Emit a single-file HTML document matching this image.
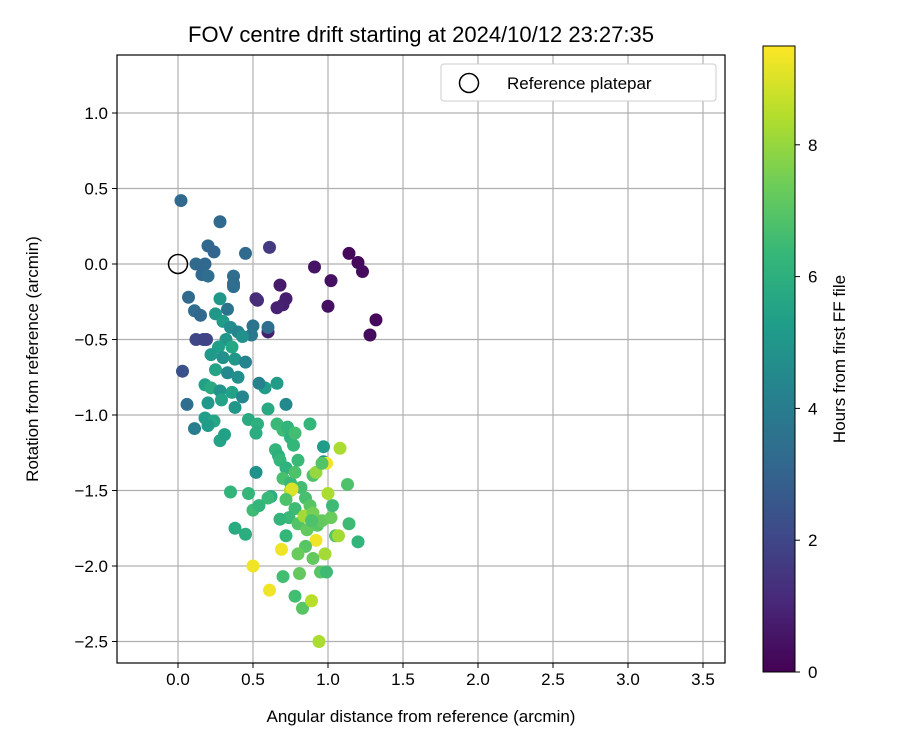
<!DOCTYPE html>
<html><head><meta charset="utf-8"><style>
body{margin:0;background:#fff;font-family:"Liberation Sans","DejaVu Sans",sans-serif}
</style></head><body>
<svg id="chart" width="900" height="750" xmlns="http://www.w3.org/2000/svg">
<rect width="900" height="750" fill="#fff"/>
<text x="421" y="42" text-anchor="middle" font-size="22" fill="#000">FOV centre drift starting at 2024/10/12 23:27:35</text>
<g id="grid"></g><g id="pts"></g><g id="axes"></g>
<text x="421" y="722" text-anchor="middle" font-size="17">Angular distance from reference (arcmin)</text>
<text transform="translate(38,359) rotate(-90)" text-anchor="middle" font-size="17">Rotation from reference (arcmin)</text>
<g>
<rect x="441" y="64" width="275" height="37" rx="3" fill="#fff" stroke="#ccc"/>
<circle cx="469" cy="83" r="9.5" fill="none" stroke="#000" stroke-width="1.5"/>
<text x="507" y="89" font-size="17">Reference platepar</text>
</g>
<defs><linearGradient id="vg" x1="0" y1="1" x2="0" y2="0"></linearGradient></defs>
<rect x="763" y="46" width="32" height="626" fill="url(#vg)" stroke="#000"/>
<g id="cbt"></g>
<text transform="translate(845,359) rotate(-90)" text-anchor="middle" font-size="17">Hours from first FF file</text>
</svg>
<script>
const xTicks=[0.0,0.5,1.0,1.5,2.0,2.5,3.0,3.5];
const yTicks=[1.0,0.5,0.0,-0.5,-1.0,-1.5,-2.0,-2.5];
const cTicks=[0,2,4,6,8];
const xs=[1.14,1.2,1.23,1.32,1.28,1.0,1.02,0.91,0.68,0.72,0.7,0.66,0.6,0.52,0.53,0.02,0.28,0.2,0.24,0.45,0.61,0.12,0.18,0.16,0.2,0.37,0.37,0.37,0.07,0.11,0.15,0.33,0.28,0.19,0.12,0.17,0.03,0.06,0.11,0.6,0.5,0.49,0.58,0.66,0.72,0.54,0.25,0.3,0.35,0.4,0.43,0.32,0.27,0.36,0.22,0.3,0.38,0.45,0.25,0.33,0.4,0.18,0.22,0.28,0.36,0.43,0.2,0.29,0.38,0.18,0.24,0.2,0.28,0.31,0.47,0.53,0.52,0.6,0.52,0.35,0.38,0.45,0.47,0.5,0.54,0.62,0.65,0.67,0.68,0.66,0.7,0.73,0.75,0.77,0.72,0.7,0.75,0.78,0.8,0.78,0.88,0.97,0.97,0.99,1.08,1.13,1.14,1.2,0.82,0.85,0.9,0.92,0.88,0.78,0.75,0.76,0.72,0.74,0.8,0.84,0.86,0.9,0.93,0.96,1.0,1.02,1.03,1.05,1.07,0.92,0.85,0.8,0.9,0.98,0.95,0.99,0.81,0.78,0.83,0.89,0.94,0.7,0.72,0.69,0.5,0.61,0.68,0.6,0.89,0.96];
const ys=[0.07,0.01,-0.05,-0.37,-0.47,-0.28,-0.11,-0.02,-0.14,-0.23,-0.27,-0.29,-0.45,-0.23,-0.24,0.42,0.28,0.12,0.08,0.07,0.11,0.0,0.0,-0.07,-0.08,-0.08,-0.13,-0.15,-0.22,-0.31,-0.34,-0.3,-0.23,-0.5,-0.5,-0.5,-0.71,-0.93,-1.09,-0.42,-0.41,-0.47,-0.82,-0.79,-0.93,-0.79,-0.33,-0.38,-0.42,-0.45,-0.48,-0.5,-0.55,-0.55,-0.6,-0.62,-0.63,-0.65,-0.7,-0.72,-0.75,-0.8,-0.82,-0.84,-0.85,-0.88,-0.92,-0.9,-0.95,-1.02,-1.04,-1.07,-1.17,-1.13,-1.03,-1.06,-1.12,-0.96,-1.38,-1.51,-1.75,-1.79,-1.52,-1.63,-1.6,-1.54,-1.23,-1.27,-1.3,-1.06,-1.1,-1.08,-1.15,-1.2,-1.35,-1.42,-1.45,-1.38,-1.3,-1.12,-1.06,-1.21,-1.31,-1.32,-1.22,-1.46,-1.72,-1.84,-1.48,-1.55,-1.4,-1.38,-1.6,-1.62,-1.5,-1.49,-1.56,-1.68,-1.72,-1.67,-1.76,-1.65,-1.73,-1.7,-1.52,-1.68,-1.6,-1.8,-1.8,-1.83,-1.87,-1.92,-1.95,-1.92,-2.04,-2.04,-2.05,-2.2,-2.28,-2.23,-2.5,-2.07,-1.8,-1.89,-2.0,-2.16,-1.69,-1.55,-1.7,-1.32];
const hs=[0.2,0.2,0.3,0.2,0.3,0.4,0.4,0.5,0.7,0.8,0.8,0.9,0.8,1.2,1.2,3.2,3.3,3.2,3.1,3.3,1.6,3.3,3.2,3.2,3.4,3.4,3.3,3.4,3.3,3.4,3.2,3.6,5.0,2.0,2.0,1.9,2.4,3.4,4.0,3.4,3.6,3.8,5.2,5.2,4.5,4.2,5.0,5.2,4.6,4.3,4.8,5.0,5.3,5.6,5.1,4.8,5.0,4.3,5.5,4.5,4.7,5.4,5.8,4.9,5.4,4.4,5.1,5.5,5.0,5.3,5.6,5.2,5.5,5.4,5.8,6.0,5.9,5.7,4.8,6.2,5.8,5.9,6.3,6.5,6.2,5.9,6.2,6.0,6.3,6.4,6.5,6.2,6.1,6.3,6.1,6.7,6.4,6.8,6.4,6.6,6.3,5.2,4.7,9.3,8.3,6.8,6.5,6.2,6.6,6.7,6.8,8.0,7.0,6.5,8.3,9.0,6.8,6.4,6.9,8.2,7.2,7.5,7.0,7.2,8.3,7.3,6.5,7.0,8.2,9.3,7.0,7.3,7.2,8.2,7.0,6.5,7.2,6.6,7.0,8.5,8.3,6.6,6.3,9.3,9.3,9.3,6.2,6.4,6.8,6.9];
const X=v=>178+v*150, Y=v=>264-v*151, CY=v=>672-v*65.9;
const L=117,R=725,T=55,B=663,NS="http://www.w3.org/2000/svg";
const vir=[[68,1,84],[72,40,120],[62,74,137],[49,104,142],[38,130,142],[31,158,137],[53,183,121],[109,205,89],[180,222,44],[253,231,37]];
function col(h){let t=Math.max(0,Math.min(1,h/9.5))*9,i=Math.min(8,Math.floor(t)),f=t-i,a=vir[i],b=vir[i+1];return `rgb(${a.map((c,k)=>Math.round(c+(b[k]-c)*f)).join(',')})`;}
function mk(tag,at,parent){const e=document.createElementNS(NS,tag);for(const k in at)e.setAttribute(k,at[k]);parent.appendChild(e);return e;}
const g=document.getElementById('grid'),ax=document.getElementById('axes'),pts=document.getElementById('pts');
xTicks.forEach(v=>{const l=mk('line',{x1:X(v),x2:X(v),y1:T,y2:B,stroke:'#b0b0b0','stroke-width':1.2},g);

mk('line',{x1:X(v),x2:X(v),y1:B,y2:B+5,stroke:'#000'},ax);
const t=mk('text',{x:X(v),y:B+22,'text-anchor':'middle','font-size':17},ax);t.textContent=v.toFixed(1);
});
yTicks.forEach(v=>{const l=mk('line',{x1:L,x2:R,y1:Y(v),y2:Y(v),stroke:'#b0b0b0','stroke-width':1.2},g);

mk('line',{x1:L-5,x2:L,y1:Y(v),y2:Y(v),stroke:'#000'},ax);
const t=mk('text',{x:L-9,y:Y(v)+6,'text-anchor':'end','font-size':17},ax);t.textContent=(v<0?'\u2212':'')+Math.abs(v).toFixed(1);
});
const fr=mk('rect',{x:L,y:T,width:R-L,height:B-T,fill:'none',stroke:'#000','stroke-width':1.2},ax);

xs.forEach((x,i)=>{const c=mk('circle',{cx:X(x),cy:Y(ys[i]),r:6.5,fill:col(hs[i])},pts);
});
const ref=mk('circle',{cx:X(0),cy:Y(0),r:9.5,fill:'none',stroke:'#000','stroke-width':1.5},pts);

const grad=document.getElementById('vg');vir.forEach((c,i)=>mk('stop',{offset:i/9,'stop-color':`rgb(${c.join(',')})`},grad));
const cb=document.getElementById('cbt');
cTicks.forEach(v=>{mk('line',{x1:795,x2:800,y1:CY(v),y2:CY(v),stroke:'#000'},cb);
const t=mk('text',{x:808,y:CY(v)+6,'font-size':17},cb);t.textContent=v;
});
</script>
</body></html>
